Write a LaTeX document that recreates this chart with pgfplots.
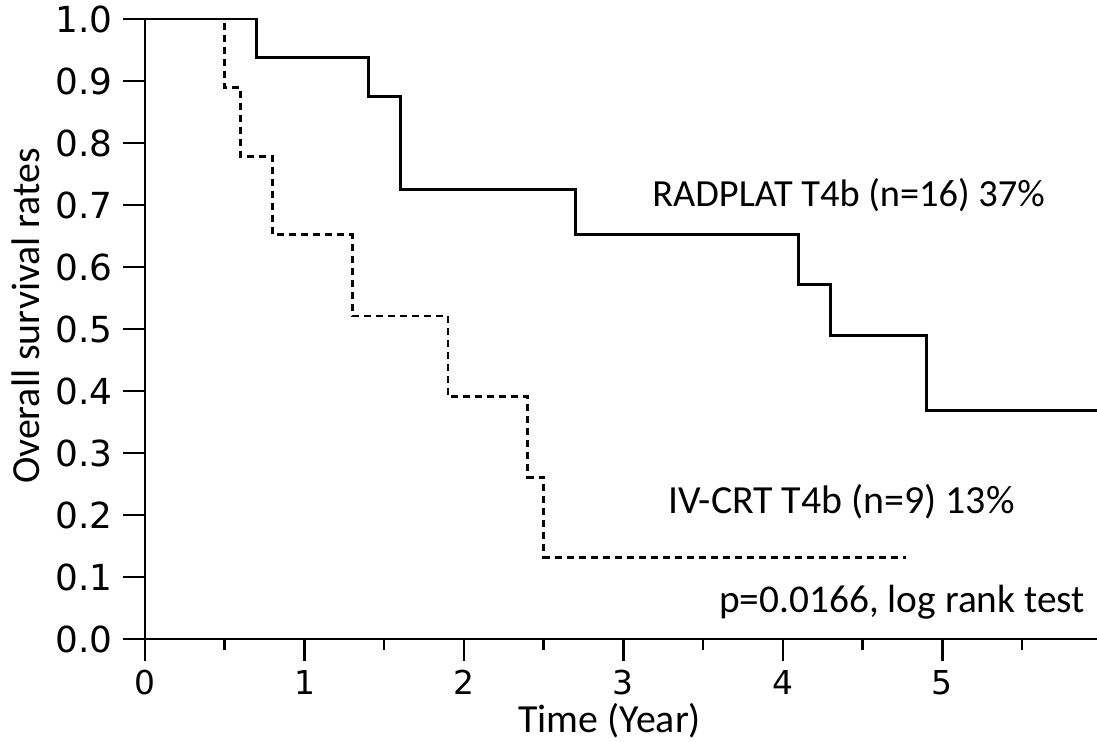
\documentclass[border=0pt]{standalone}
\usepackage{pgfplots}
\pgfplotsset{compat=1.18}
\usepackage{fontspec}
\setmainfont{Carlito}
\newfontfamily\dejavu{DejaVu Sans}
\begin{document}
\begin{tikzpicture}
\begin{axis}[
  scale only axis,
  width=952bp, height=620bp,
  xmin=0, xmax=5.97, ymin=0, ymax=1,
  axis x line=bottom, axis y line=left,
  axis line style={-, line width=2.6bp, black},
  xtick={0,1,2,3,4,5},
  extra x ticks={0.5,1.5,2.5,3.5,4.5,5.5},
  extra x tick labels={},
  extra x tick style={major tick length=11bp},
  ytick={0,0.1,0.2,0.3,0.4,0.5,0.6,0.7,0.8,0.9,1.0},
  tick align=outside,
  major tick length=22bp,
  every tick/.style={line width=2.6bp, black},
  /pgf/number format/assume math mode=true,
  yticklabel style={font=\dejavu\fontsize{36}{36}\selectfont, inner sep=0pt, xshift=-10bp, /pgf/number format/fixed, /pgf/number format/fixed zerofill, /pgf/number format/precision=1},
  xticklabel style={font=\dejavu\fontsize{33}{33}\selectfont, inner sep=0pt, yshift=-9bp},
  xlabel={Time (Year)},
  ylabel={Overall survival rates},
  xlabel style={font=\fontsize{40}{40}\selectfont, inner sep=0pt, at={(axis description cs:0.488,-0.151)}, anchor=base},
  ylabel style={font=\fontsize{40}{40}\selectfont, inner sep=0pt, at={(axis description cs:-0.1103,0.521)}, anchor=base},
  clip=false,
]
\addplot[const plot, line width=2.9bp, dash pattern=on 7bp off 5bp] coordinates {
  (0,1) (0.5,0.889) (0.6,0.778) (0.8,0.652) (1.3,0.521) (1.9,0.391) (2.4,0.261) (2.5,0.132) (4.77,0.132)
};
\addplot[const plot, line width=2.9bp] coordinates {
  (0,1) (0.7,0.9375) (1.4,0.875) (1.6,0.725) (2.7,0.653) (4.1,0.572) (4.3,0.490) (4.9,0.368) (5.97,0.368)
};
\node[font=\fontsize{38.5}{38}\selectfont, inner sep=0pt, anchor=base west] at (axis cs:3.18,0.697) {RADPLAT T4b (n=16) 37\%};
\node[font=\fontsize{40}{38}\selectfont, inner sep=0pt, anchor=base west] at (axis cs:3.28,0.203) {IV-CRT T4b (n=9) 13\%};
\node[font=\fontsize{39.5}{38}\selectfont, inner sep=0pt, anchor=base east] at (axis cs:5.895,0.042) {p=0.0166, log rank test};
\coordinate (bl) at (rel axis cs:0,0);
\coordinate (tr) at (rel axis cs:1,1);
\end{axis}
\pgfresetboundingbox
\path[use as bounding box] ([shift={(-145bp,-103bp)}]bl) rectangle ([shift={(0bp,19bp)}]tr);
\end{tikzpicture}
\end{document}
